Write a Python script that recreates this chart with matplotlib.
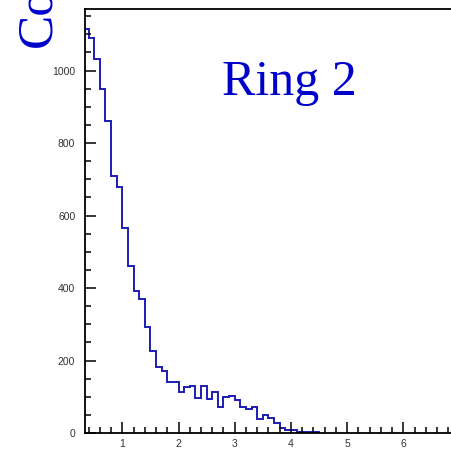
#!/usr/bin/env python3
"""Ring 2 counts histogram, ROOT-style frame"""
import numpy as np
import matplotlib.pyplot as plt
from matplotlib.ticker import MultipleLocator

# bin edges: 0.3 .. 4.5 step 0.1
bin_lo = 0.3
bin_w = 0.1
counts = [1114, 1090, 1031, 948, 861, 710, 678, 566, 462, 391,
          370, 292, 227, 181, 172, 140, 140, 112, 126, 130,
          97, 130, 94, 112, 71, 98, 103, 91, 71, 66,
          71, 38, 50, 41, 27, 13, 8, 8, 4, 4,
          2, 2]
edges = bin_lo + bin_w * np.arange(len(counts) + 1)

W, H = 452, 450
fig = plt.figure(figsize=(W / 100, H / 100), dpi=100, facecolor="white")

# axes frame in pixels (left 85, top 9, bottom 433); right side runs off the canvas
x0, x_min, px_per_unit = 85, 0.336, 56.2
x_max = 6.98
ax_w = (x_max - x_min) * px_per_unit
ax = fig.add_axes([x0 / W, (H - 433) / H, ax_w / W, (433 - 9) / H])

ax.stairs(counts, edges, baseline=0, color="#1c1cb4", linewidth=1.4)

ax.set_xlim(x_min, x_max)
ax.set_ylim(0, 1170)

ax.xaxis.set_major_locator(MultipleLocator(1))
ax.xaxis.set_minor_locator(MultipleLocator(0.2))
ax.yaxis.set_major_locator(MultipleLocator(200))
ax.yaxis.set_minor_locator(MultipleLocator(50))

for s in ("left", "bottom", "top"):
    ax.spines[s].set_linewidth(1.3)
ax.spines["right"].set_visible(False)

ax.tick_params(which="both", direction="in", top=False, right=False,
               width=1.1, colors="black", labelcolor="#333333",
               labelsize=7.5)
ax.tick_params(which="major", length=8)
ax.tick_params(which="minor", length=4.3)
ax.tick_params(axis="y", pad=7)
ax.tick_params(axis="x", pad=4)
for lab in ax.get_xticklabels() + ax.get_yticklabels():
    lab.set_family(["Liberation Sans", "DejaVu Sans"])


def to_fig(xp, yp):
    return xp / W, (H - yp) / H


# big blue labels (the y title runs off the top, as in the source)
fig.text(*to_fig(222, 95), "Ring 2", color="#0000cc", fontsize=36,
         family=["Liberation Serif", "DejaVu Serif"], ha="left", va="baseline")
fig.text(*to_fig(50, 47), "Counts", color="#0000cc", fontsize=37,
         family=["Liberation Serif", "DejaVu Serif"], rotation=90,
         rotation_mode="anchor", ha="left", va="baseline")

fig.savefig("out.png", dpi=100, facecolor="white")
